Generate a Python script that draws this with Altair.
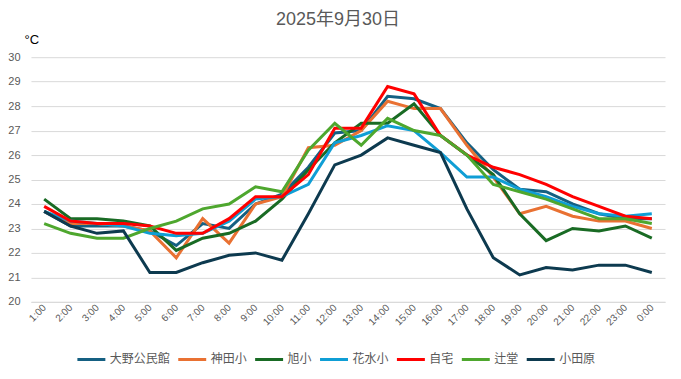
import altair as alt
import pandas as pd

hours = ["1:00", "2:00", "3:00", "4:00", "5:00", "6:00", "7:00", "8:00", "9:00", "10:00",
         "11:00", "12:00", "13:00", "14:00", "15:00", "16:00", "17:00", "18:00", "19:00",
         "20:00", "21:00", "22:00", "23:00", "0:00"]

ono = [23.7, 23.1, 23.1, 23.1, 22.9, 22.3, 23.2, 23.0, 24.0, 24.4, 25.5, 26.9, 27.0, 28.4,
       28.3, 27.9, 26.5, 25.4, 24.6, 24.5, 24.0, 23.6, 23.4, 23.4]
kanda = [23.7, 23.2, 23.2, 23.1, 22.9, 21.8, 23.4, 22.4, 24.0, 24.3, 26.3, 26.4, 27.0, 28.2,
         27.9, 27.9, 26.4, 25.1, 23.6, 23.9, 23.5, 23.3, 23.3, 23.0]
asahi = [24.2, 23.4, 23.4, 23.3, 23.1, 22.1, 22.6, 22.8, 23.3, 24.2, 25.4, 26.5, 27.3, 27.3,
         28.1, 26.8, 26.0, 25.2, 23.6, 22.5, 23.0, 22.9, 23.1, 22.6]
hanamizu = [23.7, 23.3, 23.2, 23.1, 22.8, 22.7, 22.8, 23.3, 24.2, 24.3, 24.8, 26.5, 26.8, 27.2,
            27.0, 26.1, 25.1, 25.1, 24.6, 24.3, 23.9, 23.6, 23.5, 23.6]
jitaku = [23.9, 23.3, 23.2, 23.2, 23.1, 22.8, 22.8, 23.4, 24.3, 24.3, 25.2, 27.1, 27.1, 28.8,
          28.5, 26.8, 26.0, 25.5, 25.2, 24.8, 24.3, 23.9, 23.5, 23.4]
tsujido = [23.2, 22.8, 22.6, 22.6, 23.0, 23.3, 23.8, 24.0, 24.7, 24.5, 26.2, 27.3, 26.4, 27.5,
           27.0, 26.8, 26.0, 24.8, 24.5, 24.2, 23.8, 23.4, 23.4, 23.2]
odawara = [23.7, 23.1, 22.8, 22.9, 21.2, 21.2, 21.6, 21.9, 22.0, 21.7, 23.6, 25.6, 26.0, 26.7,
           26.4, 26.1, 23.8, 21.8, 21.1, 21.4, 21.3, 21.5, 21.5, 21.2]

series_names = ["大野公民館", "神田小", "旭小", "花水小", "自宅", "辻堂", "小田原"]
series_values = [ono, kanda, asahi, hanamizu, jitaku, tsujido, odawara]
series_colors = ["#156082", "#E97132", "#196B24", "#0F9ED5", "#FF0000", "#4EA72E", "#0D3A4F"]

rows = []
for name, vals in zip(series_names, series_values):
    for h, v in zip(hours, vals):
        rows.append({"時刻": h, "地点": name, "気温": v})
df = pd.DataFrame(rows)

FONT = "Liberation Sans, Noto Sans CJK JP, sans-serif"

chart = alt.Chart(df).mark_line(strokeWidth=3).encode(
    x=alt.X("時刻:O", sort=hours, title=None,
            axis=alt.Axis(labelAngle=-45, labelAlign="right", labelBaseline="middle",
                          labelFontSize=10, labelColor="#595959", labelFont=FONT,
                          ticks=False, domainColor="#d9d9d9", labelPadding=4, grid=False)),
    y=alt.Y("気温:Q", scale=alt.Scale(domain=[20, 30], nice=False, zero=False),
            axis=alt.Axis(values=list(range(20, 31)), title="°C", titleAngle=0,
                          titleAlign="left", titleBaseline="middle", titleX=-7, titleY=-18,
                          titleFontSize=13, titleFontWeight="normal", titleColor="#000000",
                          titleFont=FONT, labelFontSize=11, labelColor="#595959",
                          labelFont=FONT, ticks=False, domain=False, labelPadding=11,
                          gridColor="#d9d9d9", gridWidth=1)),
    color=alt.Color("地点:N", sort=series_names,
                    scale=alt.Scale(domain=series_names, range=series_colors),
                    legend=alt.Legend(title=None, orient="none", direction="horizontal",
                                      legendX=45, legendY=287, symbolType="stroke",
                                      symbolSize=784, symbolStrokeWidth=3, labelOffset=3,
                                      columnPadding=1, labelFontSize=12, labelColor="#595959",
                                      labelFont=FONT)),
).properties(
    width=635,
    height=245,
    title=alt.TitleParams("2025年9月30日", fontSize=18, font=FONT, color="#595959",
                          fontWeight="normal", anchor="middle", frame="group", dx=-10),
    autosize=alt.AutoSizeParams(type="none"),
    padding={"left": 23, "top": 49, "right": 8, "bottom": 69},
).configure_view(stroke=None)

chart.save("out.html", embed_options={"renderer": "svg", "actions": False})
